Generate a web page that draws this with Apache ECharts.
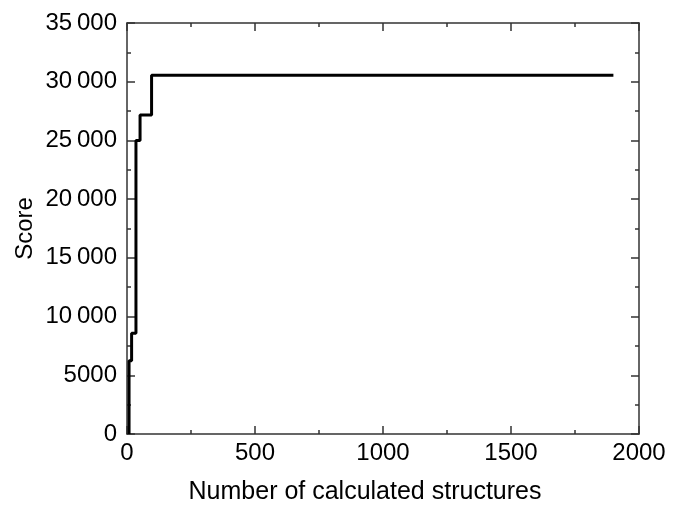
<!DOCTYPE html>
<html lang="en">
<head>
    <meta charset="UTF-8">
    <title>Score</title>
    <script src="https://cdn.jsdelivr.net/npm/echarts@6/dist/echarts.min.js"></script>
    <style>
        body { margin: 0; background: #fff; }
        #main { width: 685px; height: 507px; }
    </style>
</head>
<body>
<div id="main"></div>
<script>
    // step points: score jumps at each x and is held until the next one
    var structures = [8, 18, 35, 51, 96, 1900];
    var scores = [0, 6240, 8575, 25000, 27170, 30550];

    var xTicks = [0, 500, 1000, 1500, 2000];
    var yTicks = [0, 5000, 10000, 15000, 20000, 25000, 30000, 35000];

    var points = [];
    for (var i = 0; i < structures.length; i++) {
        points.push([structures[i], scores[i]]);
    }

    function fmtY(v) {
        // thin-space thousands only from 10 000 up
        if (v >= 10000) {
            var s = String(v);
            return s.slice(0, s.length - 3) + '\u2009' + s.slice(-3);
        }
        return String(v);
    }

    var axisCol = '#333';
    var font = 'Liberation Sans, Arial, sans-serif';

    function axisBase(extra) {
        var base = {
            type: 'value',
            axisLine: { show: true, onZero: false, lineStyle: { color: axisCol, width: 1.5 } },
            axisTick: { show: true, inside: true, length: 8, lineStyle: { color: axisCol, width: 1.5 } },
            minorTick: { show: true, splitNumber: 2, length: 4, lineStyle: { color: axisCol, width: 1.5 } },
            splitLine: { show: false }
        };
        for (var k in extra) base[k] = extra[k];
        return base;
    }

    var chart = echarts.init(document.getElementById('main'));
    var option = {
        animation: false,
        grid: { left: 127, right: 46, top: 23, bottom: 73, outerBoundsMode: 'none', containLabel: false },
        xAxis: [
            axisBase({
                position: 'bottom', min: xTicks[0], max: xTicks[xTicks.length - 1], interval: 500,
                name: 'Number of calculated structures', nameLocation: 'middle', nameGap: 46,
                nameMoveOverlap: false,
                nameTextStyle: { fontSize: 25, color: '#000', fontFamily: font, padding: [0, 36, 0, 0] },
                axisLabel: { fontSize: 24, color: '#000', fontFamily: font, margin: 7, formatter: function (v) { return String(v); } }
            }),
            axisBase({
                position: 'top', min: xTicks[0], max: xTicks[xTicks.length - 1], interval: 500,
                axisLabel: { show: false }
            })
        ],
        yAxis: [
            axisBase({
                position: 'left', min: yTicks[0], max: yTicks[yTicks.length - 1], interval: 5000,
                name: 'Score', nameLocation: 'middle', nameGap: 90,
                nameMoveOverlap: false,
                nameTextStyle: { fontSize: 24, color: '#000', fontFamily: font },
                axisLabel: { fontSize: 24, color: '#000', fontFamily: font, margin: 10, formatter: fmtY }
            }),
            axisBase({
                position: 'right', min: yTicks[0], max: yTicks[yTicks.length - 1], interval: 5000,
                axisLabel: { show: false }
            })
        ],
        series: [{
            type: 'line',
            step: 'start',
            data: points,
            symbol: 'none',
            lineStyle: { color: '#000', width: 3 }
        }]
    };
    chart.setOption(option);
</script>
</body>
</html>
